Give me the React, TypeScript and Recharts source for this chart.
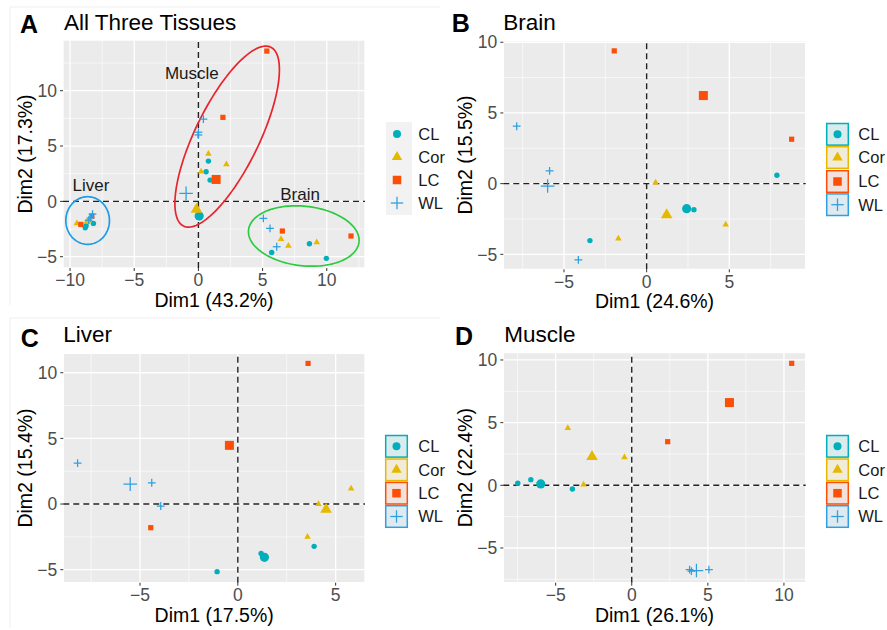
import React from 'react';
import { ScatterChart, Scatter, XAxis, YAxis, CartesianGrid, ReferenceLine, Label } from 'recharts';

// ---------- groups ----------
const groups = ['CL', 'Cor', 'LC', 'WL'];
const groupColors: Record<string, string> = { CL: '#00AFBB', Cor: '#E7B800', LC: '#FC4E07', WL: '#2E9FDF' };
const keyFills: Record<string, string> = { CL: '#DAEBED', Cor: '#F1ECDA', LC: '#F3E2DB', WL: '#DEEAF0' };

// ---------- Panel A: all three tissues ----------
const allCL = [
  { x: 5.71, y: -4.61 }, { x: 8.65, y: -3.83 }, { x: 9.97, y: -5.15 },
  { x: 0.78, y: 3.64 }, { x: 0.6, y: 2.67 }, { x: 0.91, y: 1.92 },
  { x: -8.82, y: -2.38 }, { x: -8.18, y: -1.99 }, { x: -8.75, y: -2.2 },
];
const allCor = [
  { x: 6.44, y: -3.41 }, { x: 7.01, y: -4.01 }, { x: 9.22, y: -3.71 },
  { x: 0.78, y: 4.3 }, { x: 2.18, y: 3.34 }, { x: 0.21, y: 2.7 },
  { x: -9.47, y: -1.99 }, { x: -8.57, y: -1.75 }, { x: -8.7, y: -1.85 },
];
const allLC = [
  { x: 6.54, y: -2.68 }, { x: 11.89, y: -3.13 },
  { x: 5.33, y: 13.58 }, { x: 1.91, y: 7.59 },
  { x: -9.16, y: -2.08 }, { x: -8.3, y: -1.33 },
];
const allWL = [
  { x: 5.06, y: -1.54 }, { x: 5.58, y: -2.44 }, { x: 6.1, y: -4.1 },
  { x: 0.39, y: 7.43 }, { x: 0.0, y: 6.25 }, { x: 0.0, y: 6.0 },
  { x: -8.25, y: -1.15 }, { x: -8.4, y: -1.5 }, { x: -8.55, y: -1.7 },
];
const allCLMean = [{ x: 0.06, y: -1.33 }];
const allCorMean = [{ x: -0.15, y: -0.72 }];
const allLCMean = [{ x: 1.38, y: 1.98 }];
const allWLMean = [{ x: -0.96, y: 0.72 }];
const tissueLabels = [
  { x: -0.51, y: 11.59, label: 'Muscle' },
  { x: -8.37, y: 1.45, label: 'Liver' },
  { x: 7.92, y: 0.69, label: 'Brain' },
];
// confidence ellipses: centre and two half-axis vectors (data units)
const tissueEllipses = [
  { name: 'Liver', color: '#1E9BE6', cx: -8.63, cy: -1.73, ax: 1.7, ay: 0, bx: 0, by: 2.15 },
  { name: 'Muscle', color: '#E8242C', cx: 2.24, cy: 5.85, ax: 3.4, ay: 8.08, bx: 2.24, by: -1.27 },
  { name: 'Brain', color: '#2ACB3E', cx: 8.21, cy: -3.13, ax: 4.31, ay: -0.39, bx: 0, by: 2.7 },
];

// ---------- Panel B: brain ----------
const brainCL = [{ x: 7.88, y: 0.59 }, { x: 2.86, y: -1.84 }, { x: -3.43, y: -4.03 }];
const brainCor = [{ x: 0.54, y: 0.07 }, { x: 4.78, y: -2.9 }, { x: -1.71, y: -3.89 }];
const brainLC = [{ x: -1.96, y: 9.39 }, { x: 8.77, y: 3.14 }];
const brainWL = [{ x: -7.86, y: 4.06 }, { x: -5.87, y: 0.9 }, { x: -4.13, y: -5.4 }];
const brainCLMean = [{ x: 2.42, y: -1.77 }];
const brainCorMean = [{ x: 1.21, y: -2.22 }];
const brainLCMean = [{ x: 3.43, y: 6.23 }];
const brainWLMean = [{ x: -5.99, y: -0.17 }];

// ---------- Panel C: liver ----------
const liverCL = [{ x: 1.19, y: -3.76 }, { x: 3.9, y: -3.22 }, { x: -1.06, y: -5.15 }];
const liverCor = [{ x: 5.79, y: 1.17 }, { x: 4.12, y: 0.0 }, { x: 3.56, y: -2.49 }];
const liverLC = [{ x: 3.59, y: 10.71 }, { x: -4.45, y: -1.8 }];
const liverWL = [{ x: -8.19, y: 3.12 }, { x: -4.4, y: 1.62 }, { x: -3.94, y: -0.15 }];
const liverCLMean = [{ x: 1.36, y: -4.06 }];
const liverCorMean = [{ x: 4.51, y: -0.41 }];
const liverLCMean = [{ x: -0.43, y: 4.47 }];
const liverWLMean = [{ x: -5.5, y: 1.52 }];

// ---------- Panel D: muscle ----------
const muscleCL = [{ x: -7.49, y: 0.16 }, { x: -6.63, y: 0.45 }, { x: -3.9, y: -0.29 }];
const muscleCor = [{ x: -4.2, y: 4.57 }, { x: -0.48, y: 2.23 }, { x: -3.17, y: 0.05 }];
const muscleLC = [{ x: 10.51, y: 9.73 }, { x: 2.36, y: 3.48 }];
const muscleWL = [{ x: 3.8, y: -6.72 }, { x: 3.92, y: -6.85 }, { x: 5.07, y: -6.72 }];
const muscleCLMean = [{ x: -5.98, y: 0.11 }];
const muscleCorMean = [{ x: -2.61, y: 2.29 }];
const muscleLCMean = [{ x: 6.42, y: 6.6 }];
const muscleWLMean = [{ x: 4.25, y: -6.8 }];

// ---------- axes ----------
const ticksA_x = [-10, -5, 0, 5, 10];
const ticksA_y = [-5, 0, 5, 10];
const minorA_x = [-7.5, -2.5, 2.5, 7.5, 12.5];
const minorA_y = [-2.5, 2.5, 7.5, 12.5];
const ticksB_x = [-5, 0, 5];
const ticksB_y = [-5, 0, 5, 10];
const minorB_x = [-7.5, -2.5, 2.5, 7.5];
const minorB_y = [-2.5, 2.5, 7.5];
const ticksC_x = [-5, 0, 5];
const ticksC_y = [-5, 0, 5, 10];
const minorC_x = [-7.5, -2.5, 2.5];
const minorC_y = [-2.5, 2.5, 7.5];
const ticksD_x = [-5, 0, 5, 10];
const ticksD_y = [-5, 0, 5, 10];
const minorD_x = [-7.5, -2.5, 2.5, 7.5];
const minorD_y = [-7.5, -2.5, 2.5, 7.5];

const FONT = "'Liberation Sans', Arial, Helvetica, sans-serif";
const Y_W = 55;
const X_H = 40;

const fmt = (v: number) => (v < 0 ? '\u2212' + Math.abs(v) : String(v));

function ellipsePoints(e: any) {
  const pts: { x: number; y: number }[] = [];
  const n = 144;
  for (let i = 0; i <= n; i++) {
    const t = (2 * Math.PI * i) / n;
    pts.push({
      x: e.cx + e.ax * Math.cos(t) + e.bx * Math.sin(t),
      y: e.cy + e.ay * Math.cos(t) + e.by * Math.sin(t),
    });
  }
  return pts;
}

function Marker({ g, big, cx, cy, legend }: { g: string; big?: boolean; cx: number; cy: number; legend?: boolean }) {
  const c = groupColors[g];
  if (cx == null || cy == null || isNaN(cx) || isNaN(cy)) return <g />;
  if (g === 'CL') {
    const r = legend ? 4 : big ? 4.6 : 2.7;
    return <circle cx={cx} cy={cy} r={r} fill={c} />;
  }
  if (g === 'Cor') {
    const s = legend ? 5.2 : big ? 5.8 : 3.3;
    const h = s * 1.732;
    return <path d={`M${cx},${cy - (h * 2) / 3} L${cx + s},${cy + h / 3} L${cx - s},${cy + h / 3} Z`} fill={c} />;
  }
  if (g === 'LC') {
    const w = legend ? 8.5 : big ? 9 : 5.2;
    return <rect x={cx - w / 2} y={cy - w / 2} width={w} height={w} fill={c} />;
  }
  const l = legend ? 6.2 : big ? 6.8 : 3.9;
  return (
    <g stroke={c} strokeWidth={1.25}>
      <line x1={cx - l} y1={cy} x2={cx + l} y2={cy} />
      <line x1={cx} y1={cy - l} x2={cx} y2={cy + l} />
    </g>
  );
}

const shapeFor = (g: string, big: boolean) => (p: any) => <Marker g={g} big={big} cx={p.cx} cy={p.cy} />;

type Cfg = {
  left: number; top: number; width: number; height: number;
  plot: { l: number; t: number; r: number; b: number };
  xDomain: [number, number]; yDomain: [number, number];
  xTicks: number[]; yTicks: number[]; xMinor: number[]; yMinor: number[];
  xTitle: string; yTitle: string;
};

function Panel({ cfg, series, ellipses, labels }: { cfg: Cfg; series: { g: string; pts: any[]; mean: any[] }[]; ellipses?: any[]; labels?: any[] }) {
  const { left, top, width, height, plot } = cfg;
  const margin = { top: plot.t, left: plot.l - Y_W, right: width - plot.r, bottom: height - plot.b - X_H };
  return (
    <div style={{ position: 'absolute', left, top, width, height }}>
      <ScatterChart width={width} height={height} margin={margin}>
        <CartesianGrid fill="#EBEBEB" fillOpacity={1} stroke="#FFFFFF" strokeWidth={1.3} />
        <XAxis
          type="number" dataKey="x" domain={cfg.xDomain} ticks={cfg.xTicks} allowDataOverflow interval={0}
          axisLine={false} tickSize={3} tickMargin={3} tickLine={{ stroke: '#333333' }}
          tick={{ fill: '#4D4D4D', fontSize: 17.5 }} tickFormatter={fmt} height={X_H}
        >
          <Label value={cfg.xTitle} position="insideBottom" offset={1} fontSize={19.5} fill="#000000" />
        </XAxis>
        <YAxis
          type="number" dataKey="y" domain={cfg.yDomain} ticks={cfg.yTicks} allowDataOverflow interval={0}
          axisLine={false} tickSize={3} tickMargin={3} tickLine={{ stroke: '#333333' }}
          tick={{ fill: '#4D4D4D', fontSize: 17.5 }} tickFormatter={fmt} width={Y_W}
        >
          <Label value={cfg.yTitle} angle={-90} position="insideLeft" offset={17} fontSize={19.5} fill="#000000" style={{ textAnchor: 'middle' }} />
        </YAxis>
        {cfg.xMinor.map((v) => <ReferenceLine key={'xm' + v} x={v} stroke="#FFFFFF" strokeWidth={0.6} />)}
        {cfg.yMinor.map((v) => <ReferenceLine key={'ym' + v} y={v} stroke="#FFFFFF" strokeWidth={0.6} />)}
        <ReferenceLine x={0} stroke="#222222" strokeWidth={1.4} strokeDasharray="6 4" />
        <ReferenceLine y={0} stroke="#222222" strokeWidth={1.4} strokeDasharray="6 4" />
        {(ellipses || []).map((e) => (
          <Scatter
            key={'el' + e.name} data={ellipsePoints(e)} isAnimationActive={false}
            line={{ stroke: e.color, strokeWidth: 1.7, fill: 'none' }} shape={() => <g />}
          />
        ))}
        {series.map((s) => (
          <Scatter key={'p' + s.g} data={s.pts} isAnimationActive={false} shape={shapeFor(s.g, false)} />
        ))}
        {series.map((s) => (
          <Scatter key={'m' + s.g} data={s.mean} isAnimationActive={false} shape={shapeFor(s.g, true)} />
        ))}
        {labels ? (
          <Scatter
            data={labels} isAnimationActive={false}
            shape={(p: any) => (
              <text x={p.cx} y={p.cy} dy="0.36em" textAnchor="middle" fontSize={17} fill="#1A1A1A">{p.payload.label}</text>
            )}
          />
        ) : null}
      </ScatterChart>
    </div>
  );
}

function LegendBlock({ x, ys, boxed, textX }: { x: number; ys: number[]; boxed: boolean; textX: number }) {
  const bw = 21.6;
  return (
    <g>
      {!boxed ? <rect x={x} y={ys[0] - 12} width={26} height={ys[3] - ys[0] + 24} fill="#F2F2F2" /> : null}
      {groups.map((g, i) => {
        const cx = boxed ? x + bw / 2 : x + 11;
        const cy = ys[i];
        return (
          <g key={g}>
            {boxed ? (
              <rect x={x} y={cy - bw / 2} width={bw} height={bw} fill={keyFills[g]} stroke={groupColors[g]} strokeWidth={1.5} />
            ) : null}
            <Marker g={g} cx={cx} cy={cy} legend />
            <text x={textX} y={cy} dy="0.36em" fontSize={16.5} fill="#1A1A1A">{g}</text>
          </g>
        );
      })}
    </g>
  );
}

const cfgA: Cfg = {
  left: 0, top: 0, width: 440, height: 320, plot: { l: 63, t: 40, r: 365, b: 268 },
  xDomain: [-10.55, 12.98], yDomain: [-6.02, 14.58], xTicks: ticksA_x, yTicks: ticksA_y,
  xMinor: minorA_x, yMinor: minorA_y, xTitle: 'Dim1 (43.2%)', yTitle: 'Dim2 (17.3%)',
};
const cfgB: Cfg = {
  left: 440, top: 0, width: 447, height: 320, plot: { l: 63.3, t: 40.7, r: 365.7, b: 269.3 },
  xDomain: [-8.67, 9.62], yDomain: [-6.06, 10.11], xTicks: ticksB_x, yTicks: ticksB_y,
  xMinor: minorB_x, yMinor: minorB_y, xTitle: 'Dim1 (24.6%)', yTitle: 'Dim2 (15.5%)',
};
const cfgC: Cfg = {
  left: 0, top: 310, width: 440, height: 320, plot: { l: 63.3, t: 43.3, r: 365, b: 272.7 },
  xDomain: [-8.92, 6.5], yDomain: [-5.99, 11.48], xTicks: ticksC_x, yTicks: ticksC_y,
  xMinor: minorC_x, yMinor: minorC_y, xTitle: 'Dim1 (17.5%)', yTitle: 'Dim2 (15.4%)',
};
const cfgD: Cfg = {
  left: 440, top: 310, width: 447, height: 320, plot: { l: 63.3, t: 42.7, r: 365.7, b: 272.7 },
  xDomain: [-8.44, 11.43], yDomain: [-7.77, 10.58], xTicks: ticksD_x, yTicks: ticksD_y,
  xMinor: minorD_x, yMinor: minorD_y, xTitle: 'Dim1 (26.1%)', yTitle: 'Dim2 (22.4%)',
};

export default function App() {
  const seriesA = [
    { g: 'CL', pts: allCL, mean: allCLMean }, { g: 'Cor', pts: allCor, mean: allCorMean },
    { g: 'LC', pts: allLC, mean: allLCMean }, { g: 'WL', pts: allWL, mean: allWLMean },
  ];
  const seriesB = [
    { g: 'CL', pts: brainCL, mean: brainCLMean }, { g: 'Cor', pts: brainCor, mean: brainCorMean },
    { g: 'LC', pts: brainLC, mean: brainLCMean }, { g: 'WL', pts: brainWL, mean: brainWLMean },
  ];
  const seriesC = [
    { g: 'CL', pts: liverCL, mean: liverCLMean }, { g: 'Cor', pts: liverCor, mean: liverCorMean },
    { g: 'LC', pts: liverLC, mean: liverLCMean }, { g: 'WL', pts: liverWL, mean: liverWLMean },
  ];
  const seriesD = [
    { g: 'CL', pts: muscleCL, mean: muscleCLMean }, { g: 'Cor', pts: muscleCor, mean: muscleCorMean },
    { g: 'LC', pts: muscleLC, mean: muscleLCMean }, { g: 'WL', pts: muscleWL, mean: muscleWLMean },
  ];
  return (
    <div style={{ position: 'absolute', left: 0, top: 0, width: 887, height: 630, background: '#FFFFFF', fontFamily: FONT, overflow: 'hidden' }}>
      <Panel cfg={cfgA} series={seriesA} ellipses={tissueEllipses} labels={tissueLabels} />
      <Panel cfg={cfgB} series={seriesB} />
      <Panel cfg={cfgC} series={seriesC} />
      <Panel cfg={cfgD} series={seriesD} />
      <svg width={887} height={630} style={{ position: 'absolute', left: 0, top: 0, pointerEvents: 'none', fontFamily: FONT }}>
        <line x1={10} y1={7} x2={440} y2={7} stroke="#EFEFEF" strokeWidth={1} />
        <line x1={10} y1={7} x2={10} y2={305} stroke="#EFEFEF" strokeWidth={1} />
        <line x1={10} y1={318} x2={440} y2={318} stroke="#EFEFEF" strokeWidth={1} />
        <line x1={10} y1={318} x2={10} y2={628} stroke="#EFEFEF" strokeWidth={1} />
        <text x={20} y={33.3} fontSize={25} fontWeight="bold" fill="#000">A</text>
        <text x={64} y={30} fontSize={22.5} fill="#000">All Three Tissues</text>
        <text x={451.7} y={31.7} fontSize={25} fontWeight="bold" fill="#000">B</text>
        <text x={503.3} y={30} fontSize={22.5} fill="#000">Brain</text>
        <text x={20.7} y={346.7} fontSize={25} fontWeight="bold" fill="#000">C</text>
        <text x={63.3} y={341.7} fontSize={22.5} fill="#000">Liver</text>
        <text x={455} y={345} fontSize={25} fontWeight="bold" fill="#000">D</text>
        <text x={504.3} y={341.7} fontSize={22.5} fill="#000">Muscle</text>
        <LegendBlock x={386} ys={[134, 157, 180, 203]} boxed={false} textX={418.3} />
        <LegendBlock x={826.7} ys={[134.3, 157.5, 181.5, 204.7]} boxed textX={858.3} />
        <LegendBlock x={385.7} ys={[446.3, 469.8, 493.2, 516.5]} boxed textX={418.3} />
        <LegendBlock x={826.7} ys={[446.3, 469.8, 493.2, 516.5]} boxed textX={858.3} />
      </svg>
    </div>
  );
}
